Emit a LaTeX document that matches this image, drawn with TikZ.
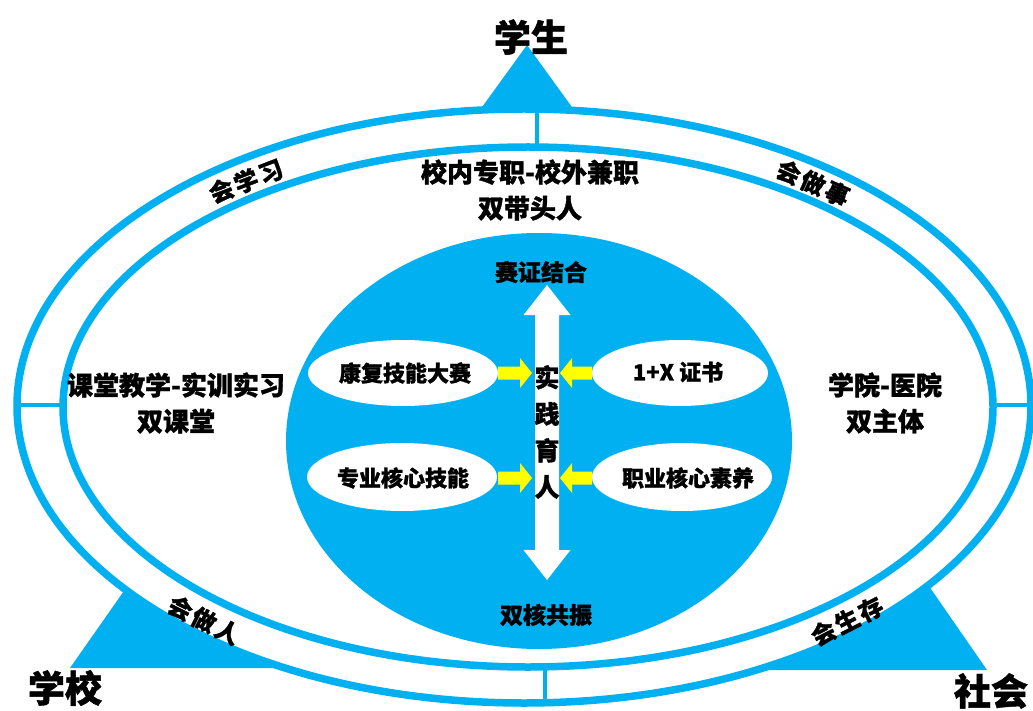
\documentclass[tikz,border=0pt]{standalone}
\usepackage{fontspec}
\setmainfont{Noto Sans CJK SC}[BoldFeatures={FakeBold=1.2}]
\definecolor{ringblue}{RGB}{0,176,240}
\definecolor{arrowyellow}{RGB}{255,255,0}
\newcommand{\gap}{\hspace{2.5pt}}
\tikzset{
  tri/.style={fill=ringblue, draw=none},
  ringline/.style={draw=ringblue, line width=7.5pt},
  divider/.style={draw=ringblue, line width=4pt},
  huge/.style={font=\bfseries\fontsize{37}{40}\selectfont, inner sep=0},
  lbl/.style={font=\bfseries\fontsize{26}{36}\selectfont, inner sep=0, align=center},
  ringlbl/.style={font=\bfseries\fontsize{24}{28}\selectfont, inner sep=0},
  ovtxt/.style={font=\bfseries\fontsize{22}{26}\selectfont, inner sep=0},
  cenlbl/.style={font=\bfseries\fontsize{23}{26}\selectfont, inner sep=0},
  yarrow/.style={fill=arrowyellow, draw=none},
  warrow/.style={fill=white, draw=none},
}
\begin{document}
\begin{tikzpicture}[x=1pt,y=-1pt]
\useasboundingbox (0,0) rectangle (1033,711);
% corner triangles
\fill[tri] (527,45) -- (603,150) -- (451,150) -- cycle;
\fill[tri] (70,668) -- (140,568) -- (330,668) -- cycle;
\fill[tri] (987,670) -- (915,566) -- (720,670) -- cycle;
% rings
\path[ringline, fill=white] (524,406) ellipse [x radius=507pt, y radius=297pt];
\path[ringline] (528,407) ellipse [x radius=465pt, y radius=260pt];
% ring dividers
\coordinate (dt1) at (537,108); \coordinate (dt2) at (537,147);
\coordinate (dl1) at (15,405);  \coordinate (dl2) at (63,405);
\coordinate (dr1) at (993,405); \coordinate (dr2) at (1036,405);
\coordinate (db1) at (545,667); \coordinate (db2) at (545,704);
\draw[divider] (dt1) -- (dt2);
\draw[divider] (dl1) -- (dl2);
\draw[divider] (dr1) -- (dr2);
\draw[divider] (db1) -- (db2);
% central blue ellipse
\fill[ringblue] (539,441) ellipse [x radius=253pt, y radius=208pt];
% white ovals
\fill[white] (403,373) ellipse [x radius=95pt, y radius=33pt];
\fill[white] (402,477) ellipse [x radius=95pt, y radius=34pt];
\fill[white] (680,373) ellipse [x radius=88pt, y radius=33pt];
\fill[white] (682,477) ellipse [x radius=90pt, y radius=34pt];
% white double arrow
\fill[warrow] (547,285) -- (570.5,315) -- (559,315) -- (559,550) -- (570.5,550)
  -- (547,580) -- (523.5,550) -- (535,550) -- (535,315) -- (523.5,315) -- cycle;
% yellow arrows
\fill[yarrow] (498,366.5) -- (520,366.5) -- (520,358) -- (532,373) -- (520,388) -- (520,379.5) -- (498,379.5) -- cycle;
\fill[yarrow] (592,366.5) -- (572,366.5) -- (572,358) -- (560,373) -- (572,388) -- (572,379.5) -- (592,379.5) -- cycle;
\fill[yarrow] (498,471.5) -- (520,471.5) -- (520,463) -- (532,478) -- (520,493) -- (520,484.5) -- (498,484.5) -- cycle;
\fill[yarrow] (592,471.5) -- (572,471.5) -- (572,463) -- (560,478) -- (572,493) -- (572,484.5) -- (592,484.5) -- cycle;
% texts
\node[huge] (stu) at (531,37) {学生};
\node[huge] (sch) at (65,688) {学校};
\node[huge] (soc) at (991,691) {社会};
\node[lbl] (top) at (530,190) {校内专职-校外兼职\\双带头人};
\node[lbl] (left) at (176,403) {课堂教学-实训实习\\双课堂};
\node[lbl] (right) at (885,403) {学院-医院\\双主体};
\node[ringlbl, rotate=21] (r1) at (246,181) {会\gap 学\gap 习};
\node[ringlbl, rotate=-24] (r2) at (813,183) {会\gap 做\gap 事};
\node[ringlbl, rotate=-27] (r3) at (204,620) {会\gap 做\gap 人};
\node[ringlbl, rotate=27] (r4) at (847,621) {会\gap 生\gap 存};
\node[cenlbl] (c1) at (541,272) {赛证结合};
\node[cenlbl] (c2) at (546,615) {双核共振};
\node[font=\bfseries\fontsize{25}{36.5}\selectfont, inner sep=0, align=center] (mid) at (547,432) {实\\践\\育\\人};
\node[ovtxt] (o1) at (405,373) {康复技能大赛};
\node[ovtxt] (o2) at (678,372) {1+X 证书};
\node[ovtxt] (o3) at (403,478) {专业核心技能};
\node[ovtxt] (o4) at (688,478) {职业核心素养};
\end{tikzpicture}
\end{document}
